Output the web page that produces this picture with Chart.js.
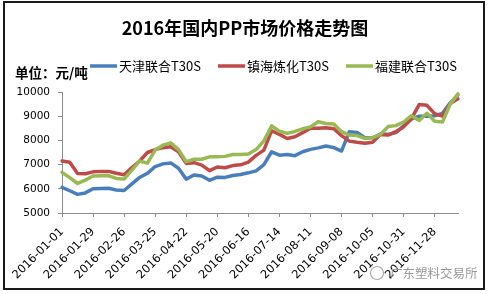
<!DOCTYPE html>
<html>
<head>
<meta charset="utf-8">
<script src="https://cdn.jsdelivr.net/npm/chart.js@4.4.1/dist/chart.umd.min.js"></script>
<style>
  html, body { margin: 0; padding: 0; background: #fff; }
  canvas { display: block; }
</style>
</head>
<body>
<canvas id="priceChart" width="489" height="294"></canvas>
<script>
// Weekly samples (元/吨)
const dates = [
    '2016-01-01', '2016-01-08', '2016-01-15', '2016-01-22', '2016-01-29', '2016-02-05', '2016-02-12', '2016-02-19',
    '2016-02-26', '2016-03-04', '2016-03-11', '2016-03-18', '2016-03-25', '2016-04-01', '2016-04-08', '2016-04-15',
    '2016-04-22', '2016-04-29', '2016-05-06', '2016-05-13', '2016-05-20', '2016-05-27', '2016-06-03', '2016-06-10',
    '2016-06-16', '2016-06-23', '2016-06-30', '2016-07-07', '2016-07-14', '2016-07-21', '2016-07-28', '2016-08-04',
    '2016-08-11', '2016-08-18', '2016-08-25', '2016-09-01', '2016-09-08', '2016-09-14', '2016-09-22', '2016-09-29',
    '2016-10-05', '2016-10-12', '2016-10-19', '2016-10-26', '2016-10-31', '2016-11-07', '2016-11-14', '2016-11-21',
    '2016-11-28', '2016-12-05', '2016-12-12', '2016-12-19'
];

const tianjin = [
    6060, 5920, 5770, 5830, 6000, 6010, 6020, 5950, 5930, 6200, 6470, 6640, 6920, 7030, 7070, 6850,
    6400, 6570, 6530, 6350, 6480, 6470, 6550, 6590, 6660, 6740, 7000, 7530, 7390, 7420, 7370, 7530,
    7630, 7690, 7770, 7700, 7560, 8360, 8330, 8110, 8110, 8250, 8250, 8320, 8600, 8880, 9000, 9000,
    9020, 9120, 9550, 9880
];

const zhenhai = [
    7150, 7100, 6630, 6620, 6700, 6720, 6720, 6640, 6580, 6880, 7150, 7500, 7620, 7700, 7740, 7530,
    7050, 7080, 6980, 6750, 6900, 6870, 6960, 6990, 7100, 7380, 7600, 8400, 8250, 8080, 8150, 8320,
    8500, 8500, 8520, 8480, 8200, 7970, 7920, 7880, 7920, 8240, 8220, 8360, 8560, 8900, 9480, 9450,
    9100, 9000, 9520, 9720
];

const fujian = [
    6680, 6460, 6220, 6360, 6530, 6540, 6540, 6430, 6400, 6770, 7150, 7060, 7600, 7800, 7900, 7620,
    7120, 7220, 7220, 7320, 7320, 7340, 7420, 7420, 7440, 7620, 7980, 8600, 8380, 8290, 8370, 8480,
    8560, 8770, 8700, 8680, 8360, 8220, 8200, 8080, 8110, 8240, 8570, 8610, 8760, 9020, 8820, 9120,
    8790, 8760, 9500, 9920
];

const seriesNames = ['天津联合T30S', '镇海炼化T30S', '福建联合T30S'];
const seriesColors = ['#4A7EBB', '#BE4B48', '#98B954'];
const yTicks = { min: 5000, max: 10000, step: 1000 };
const labelEvery = 4;

const axisGray = '#8c8c8c';

// title, unit, legend, watermark and the frame round the chart
const decorations = {
    id: 'decorations',
    beforeDraw(chart) {
        const c = chart.ctx;
        c.save();
        c.fillStyle = '#fff';
        c.fillRect(0, 0, chart.width, chart.height);
        c.restore();
    },
    afterDraw(chart) {
        const c = chart.ctx;
        c.save();
        c.textBaseline = 'middle';

        c.fillStyle = '#000';
        c.textAlign = 'center';
        c.font = 'bold 18px "Noto Sans CJK SC"';
        c.fillText('2016年国内PP市场价格走势图', 245, 28);

        c.textAlign = 'left';
        c.font = 'bold 13.5px "Noto Sans CJK SC"';
        c.fillText('单位：元/吨', 15, 73);

        const legendX = [90, 218, 346];
        c.font = '13px "Noto Sans CJK SC"';
        chart.data.datasets.forEach((ds, i) => {
            c.strokeStyle = ds.borderColor;
            c.lineWidth = 3.5;
            c.beginPath();
            c.moveTo(legendX[i], 66);
            c.lineTo(legendX[i] + 27, 66);
            c.stroke();
            c.fillStyle = '#000';
            c.fillText(ds.label, legendX[i] + 29, 66);
        });

        c.fillStyle = '#999';
        c.font = '12.5px "Noto Sans CJK SC"';
        c.fillText('广东塑料交易所', 390, 273);
        c.strokeStyle = '#aaa';
        c.lineWidth = 1.2;
        c.beginPath();
        c.arc(377, 273, 6.5, 0, Math.PI * 2);
        c.stroke();

        c.strokeStyle = '#1a1a1a';
        c.lineWidth = 2;
        c.strokeRect(4, 2, 480, 287);
        c.restore();
    }
};

const datasets = [tianjin, zhenhai, fujian].map((values, i) => ({
    label: seriesNames[i],
    data: values,
    borderColor: seriesColors[i],
    backgroundColor: seriesColors[i],
    borderWidth: 3.5,
    pointRadius: 0,
    tension: 0,
    borderJoinStyle: 'round',
    borderCapStyle: 'round',
    order: 2 - i
}));

new Chart(document.getElementById('priceChart'), {
    type: 'line',
    data: { labels: dates, datasets: datasets },
    options: {
        responsive: false,
        animation: false,
        devicePixelRatio: 1,
        layout: { padding: { top: 92, right: 31, bottom: 0, left: 0 } },
        plugins: {
            legend: { display: false },
            title: { display: false },
            tooltip: { enabled: false }
        },
        scales: {
            x: {
                type: 'category',
                offset: false,
                grid: {
                    drawOnChartArea: false,
                    drawTicks: true,
                    tickLength: 4,
                    color: ctx => (ctx.index % labelEvery === 0 ? axisGray : 'rgba(0,0,0,0)')
                },
                border: { color: axisGray, width: 1 },
                ticks: {
                    autoSkip: false,
                    minRotation: 45,
                    maxRotation: 45,
                    padding: 8,
                    color: '#000',
                    font: { family: 'DejaVu Sans', size: 11.5 },
                    callback: (v, i) => (i % labelEvery === 0 ? dates[i] : '')
                },
                afterFit: scale => { scale.height = 81; }
            },
            y: {
                min: yTicks.min,
                max: yTicks.max,
                grid: { drawOnChartArea: false, tickLength: 4, color: axisGray },
                border: { color: axisGray, width: 1 },
                ticks: {
                    stepSize: yTicks.step,
                    padding: 8,
                    color: '#000',
                    font: { family: 'DejaVu Sans', size: 10.5 },
                    callback: v => String(v)
                },
                afterFit: scale => { scale.width = 62; }
            }
        }
    },
    plugins: [decorations]
});
</script>
</body>
</html>
